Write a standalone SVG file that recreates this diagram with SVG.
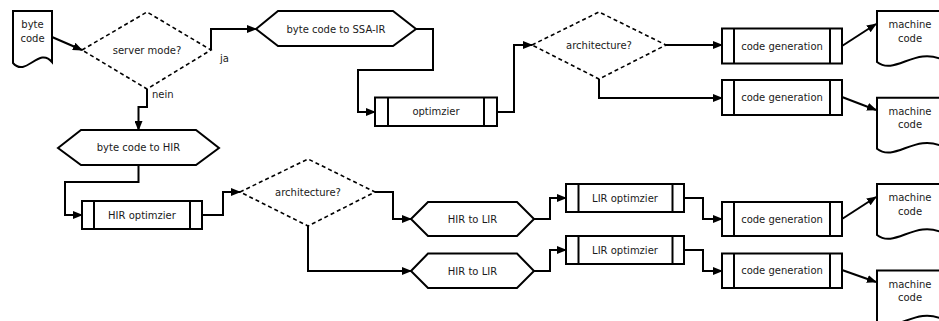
<svg xmlns="http://www.w3.org/2000/svg" width="939" height="321" viewBox="0 0 939 321">
  <style>
    .shape { fill: #ffffff; stroke: #000000; stroke-width: 2; stroke-linejoin: miter; }
    .inner { fill: none; stroke: #000000; stroke-width: 2; }
    .decision { fill: #ffffff; stroke: #000000; stroke-width: 1.6; stroke-dasharray: 4 3; }
    .edge { fill: none; stroke: #000000; stroke-width: 2; marker-end: url(#arrow); }
    text { font-family: "DejaVu Sans", Verdana, sans-serif; font-size: 10px; fill: #1a1a1a; text-anchor: middle; }
    .lbl { text-anchor: start; }
  </style>
  <defs>
    <marker id="arrow" markerUnits="userSpaceOnUse" markerWidth="10" markerHeight="8" viewBox="0 0 10 8" refX="9" refY="4" orient="auto">
      <path d="M0,0 L10,4 L0,8 Z" fill="#000000"/>
    </marker>
    <!-- document shape with wavy bottom, 66 wide -->
    <path id="doc-wide" d="M0,0 H66 V49 C38,35 18,65 0,51 Z"/>
  </defs>
  <rect width="939" height="321" fill="#ffffff"/>

  <!-- input document -->
  <g id="byte-code">
    <path class="shape" d="M13,11 H52 V62 C39,46 26,78 13,63 Z"/>
    <text x="32.5" y="28">byte</text>
    <text x="32.5" y="41.5">code</text>
  </g>

  <g id="server-mode">
    <polygon class="decision" points="82,50 147,12 211,50 147,89"/>
    <text x="147" y="53.5">server mode?</text>
  </g>

  <!-- server path -->
  <g id="bc-to-ssa">
    <polygon class="shape" points="256,29 278,11 393,11 416,29 393,46 278,46"/>
    <text x="336" y="32.5">byte code to SSA-IR</text>
  </g>

  <g id="optimizer">
    <rect class="shape" x="375" y="97.5" width="122" height="28.5"/>
    <line class="inner" x1="388" y1="97.5" x2="388" y2="126"/>
    <line class="inner" x1="484" y1="97.5" x2="484" y2="126"/>
    <text x="436" y="115">optimzier</text>
  </g>

  <g id="arch-server">
    <polygon class="decision" points="532,45 599,12 666,45 599,79"/>
    <text x="599" y="48.5">architecture?</text>
  </g>

  <g id="codegen-1">
    <rect class="shape" x="722" y="28.5" width="120" height="35"/>
    <line class="inner" x1="734" y1="28.5" x2="734" y2="63.5"/>
    <line class="inner" x1="830" y1="28.5" x2="830" y2="63.5"/>
    <text x="782" y="49.5">code generation</text>
  </g>

  <g id="codegen-2">
    <rect class="shape" x="722" y="80" width="120" height="35"/>
    <line class="inner" x1="734" y1="80" x2="734" y2="115"/>
    <line class="inner" x1="830" y1="80" x2="830" y2="115"/>
    <text x="782" y="101">code generation</text>
  </g>

  <g id="machine-code-1">
    <use href="#doc-wide" class="shape" x="877" y="11"/>
    <text x="910" y="28">machine</text>
    <text x="910" y="41.5">code</text>
  </g>

  <g id="machine-code-2">
    <use href="#doc-wide" class="shape" x="877" y="97.7"/>
    <text x="910" y="114.7">machine</text>
    <text x="910" y="128.2">code</text>
  </g>

  <!-- client path -->
  <g id="bc-to-hir">
    <polygon class="shape" points="58,148 81,130 196,130 219,148 196,165 81,165"/>
    <text x="138.5" y="151">byte code to HIR</text>
  </g>

  <g id="hir-optimizer">
    <rect class="shape" x="82" y="201" width="120" height="28"/>
    <line class="inner" x1="94" y1="201" x2="94" y2="229"/>
    <line class="inner" x1="190" y1="201" x2="190" y2="229"/>
    <text x="142" y="218.5">HIR optimzier</text>
  </g>

  <g id="arch-client">
    <polygon class="decision" points="240,192 308,159 375,192 308,226"/>
    <text x="308" y="195.5">architecture?</text>
  </g>

  <g id="hir-to-lir-1">
    <polygon class="shape" points="411,219 428,202 517,202 534,219 517,236 428,236"/>
    <text x="472.5" y="222.5">HIR to LIR</text>
  </g>

  <g id="hir-to-lir-2">
    <polygon class="shape" points="411,271 428,253.5 517,253.5 534,271 517,288 428,288"/>
    <text x="472.5" y="274.5">HIR to LIR</text>
  </g>

  <g id="lir-optimizer-1">
    <rect class="shape" x="566" y="184" width="118" height="28"/>
    <line class="inner" x1="578.5" y1="184" x2="578.5" y2="212"/>
    <line class="inner" x1="672.5" y1="184" x2="672.5" y2="212"/>
    <text x="625" y="201.5">LIR optimzier</text>
  </g>

  <g id="lir-optimizer-2">
    <rect class="shape" x="566" y="236" width="118" height="28"/>
    <line class="inner" x1="578.5" y1="236" x2="578.5" y2="264"/>
    <line class="inner" x1="672.5" y1="236" x2="672.5" y2="264"/>
    <text x="625" y="253.5">LIR optimzier</text>
  </g>

  <g id="codegen-3">
    <rect class="shape" x="722" y="202" width="120" height="34"/>
    <line class="inner" x1="734" y1="202" x2="734" y2="236"/>
    <line class="inner" x1="830" y1="202" x2="830" y2="236"/>
    <text x="782" y="222.5">code generation</text>
  </g>

  <g id="codegen-4">
    <rect class="shape" x="722" y="253.5" width="120" height="34.5"/>
    <line class="inner" x1="734" y1="253.5" x2="734" y2="288"/>
    <line class="inner" x1="830" y1="253.5" x2="830" y2="288"/>
    <text x="782" y="274">code generation</text>
  </g>

  <g id="machine-code-3">
    <use href="#doc-wide" class="shape" x="877" y="184"/>
    <text x="910" y="201">machine</text>
    <text x="910" y="214.5">code</text>
  </g>

  <g id="machine-code-4">
    <use href="#doc-wide" class="shape" x="877" y="270.5"/>
    <text x="910" y="287.5">machine</text>
    <text x="910" y="301">code</text>
  </g>

  <!-- connectors -->
  <g id="connectors">
    <path class="edge" d="M52,37 L82,50"/>
    <path class="edge" d="M211,50 V29 H256"/>
    <text class="lbl" x="220" y="62">ja</text>
    <path class="edge" d="M147,89 V107 H138.5 V130"/>
    <text class="lbl" x="152" y="98">nein</text>
    <path class="edge" d="M416,29 H433 V70 H358 V112 H375"/>
    <path class="edge" d="M497,112 H514 V45 H532"/>
    <path class="edge" d="M666,45 H722"/>
    <path class="edge" d="M599,79 V98 H722"/>
    <path class="edge" d="M842,46 L876,24"/>
    <path class="edge" d="M842,97 L876,110"/>
    <path class="edge" d="M138.5,165 V182 H65 V215 H82"/>
    <path class="edge" d="M202,215 H223 V192 H240"/>
    <path class="edge" d="M375,192 H393 V219 H411"/>
    <path class="edge" d="M308,226 V271 H411"/>
    <path class="edge" d="M534,219 H550 V198 H566"/>
    <path class="edge" d="M534,271 H550 V250 H566"/>
    <path class="edge" d="M684,198 H703 V219 H722"/>
    <path class="edge" d="M684,250 H703 V271 H722"/>
    <path class="edge" d="M842,219 L876,197"/>
    <path class="edge" d="M842,270 L876,282"/>
  </g>
</svg>
